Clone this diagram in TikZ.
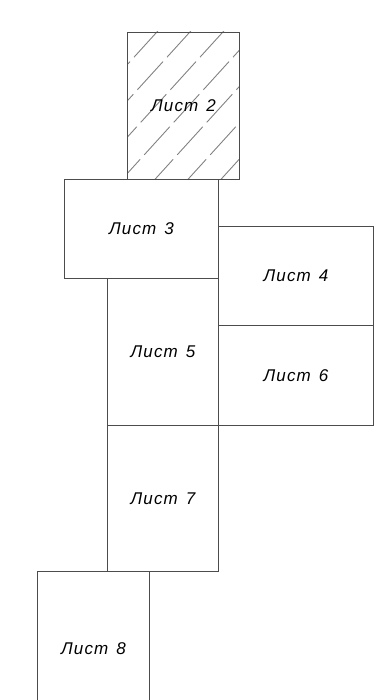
\documentclass[tikz,border=0pt]{standalone}
\usepackage{fontspec}
\setmainfont{Liberation Sans}
\newfontfamily\gostfont[LetterSpace=7]{Liberation Sans Italic}
\begin{document}
\begin{tikzpicture}[x=1pt,y=-1pt,
  sheet/.style={draw=black!70,line width=0.9pt,rectangle,inner sep=0pt,anchor=north west,
    font=\gostfont\fontsize{17}{17}\selectfont,text=black},
  hatch/.style={draw=black!50,line width=0.9pt,dash pattern=on 38pt off 6pt}]
\useasboundingbox (0,0) rectangle (382,700);
\clip (0,0) rectangle (382,700);
% hatching of sheet 2
\begin{scope}
  \clip (127,32) rectangle (239,179);
  \foreach \k in {0,...,12}{
    \draw[hatch] ({-80+33*\k},220) -- ++(200,-220);
  }
\end{scope}
\node[sheet,minimum width=112pt,minimum height=147pt] (s2) at (127,32) {Лист\hspace{8pt}2};
\node[sheet,minimum width=154pt,minimum height=99pt] (s3) at (64,179) {Лист\hspace{8pt}3};
\node[sheet,minimum width=155pt,minimum height=99pt] (s4) at (218,226) {Лист\hspace{8pt}4};
\node[sheet,minimum width=155pt,minimum height=100pt] (s6) at (218,325) {Лист\hspace{8pt}6};
\node[sheet,minimum width=111pt,minimum height=147pt] (s5) at (107,278) {Лист\hspace{8pt}5};
\node[sheet,minimum width=111pt,minimum height=146pt] (s7) at (107,425) {Лист\hspace{8pt}7};
\node[sheet,minimum width=112pt,minimum height=154pt] (s8) at (37,571) {Лист\hspace{8pt}8};
\end{tikzpicture}
\end{document}
